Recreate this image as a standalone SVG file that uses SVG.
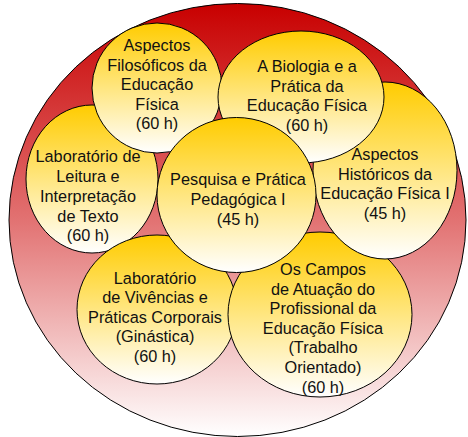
<svg xmlns="http://www.w3.org/2000/svg" width="468" height="437" viewBox="0 0 468 437">
  <defs>
    <linearGradient id="gRed" x1="0" y1="0" x2="0" y2="1">
      <stop offset="0" stop-color="#C80000"/>
      <stop offset="0.5" stop-color="#E27272"/>
      <stop offset="1" stop-color="#FFFFFF"/>
    </linearGradient>
    <linearGradient id="gYel" x1="0" y1="0" x2="0" y2="1">
      <stop offset="0" stop-color="#FFCC00"/>
      <stop offset="0.5" stop-color="#FFE680"/>
      <stop offset="1" stop-color="#FFFFFF"/>
    </linearGradient>
  </defs>
  <style>
    .outer { fill: url(#gRed); stroke: #000000; stroke-width: 1; }
    .node ellipse { fill: url(#gYel); stroke: #000000; stroke-width: 1; }
    .node text { font-family: "Liberation Sans", Arial, sans-serif; font-size: 16.3px; fill: #111111; text-anchor: middle; }
  </style>
  <ellipse class="outer" cx="237.5" cy="220" rx="228.5" ry="216.5"/>
  <g id="connectors"></g>
  <g id="leitura" class="node">
    <ellipse cx="92" cy="179" rx="66" ry="74"/>
    <text x="88" y="162">Laboratório de</text>
    <text x="88" y="182">Leitura e</text>
    <text x="88" y="202">Interpretação</text>
    <text x="88" y="221.5">de Texto</text>
    <text x="88" y="241">(60 h)</text>
  </g>
  <g id="vivencias" class="node">
    <ellipse cx="157" cy="309.5" rx="80" ry="74.5"/>
    <text x="155" y="284">Laboratório</text>
    <text x="155" y="303">de Vivências e</text>
    <text x="155" y="322.5">Práticas Corporais</text>
    <text x="155" y="342">(Ginástica)</text>
    <text x="155" y="361.5">(60 h)</text>
  </g>
  <g id="campos" class="node">
    <ellipse cx="320" cy="314.5" rx="92" ry="82.5"/>
    <text x="323" y="275">Os Campos</text>
    <text x="323" y="294.5">de Atuação do</text>
    <text x="323" y="314">Profissional da</text>
    <text x="323" y="333.5">Educação Física</text>
    <text x="323" y="353">(Trabalho</text>
    <text x="323" y="373">Orientado)</text>
    <text x="323" y="393">(60 h)</text>
  </g>
  <g id="historicos" class="node">
    <ellipse cx="385" cy="170.5" rx="72" ry="88.5"/>
    <text x="385" y="160">Aspectos</text>
    <text x="385" y="179.5">Históricos da</text>
    <text x="385" y="199">Educação Física I</text>
    <text x="385" y="219">(45 h)</text>
  </g>
  <g id="filosoficos" class="node">
    <ellipse cx="157" cy="88" rx="65" ry="65"/>
    <text x="157" y="51">Aspectos</text>
    <text x="157" y="70.5">Filosóficos da</text>
    <text x="157" y="90">Educação</text>
    <text x="157" y="109.5">Física</text>
    <text x="157" y="129">(60 h)</text>
  </g>
  <g id="biologia" class="node">
    <ellipse cx="301" cy="97" rx="83" ry="66"/>
    <text x="307" y="71.5">A Biologia e a</text>
    <text x="307" y="91.5">Prática da</text>
    <text x="307" y="111">Educação Física</text>
    <text x="307" y="131">(60 h)</text>
  </g>
  <g id="pesquisa" class="node">
    <ellipse cx="236.5" cy="195" rx="79.5" ry="77.5"/>
    <text x="238" y="185">Pesquisa e Prática</text>
    <text x="238" y="205">Pedagógica I</text>
    <text x="238" y="225">(45 h)</text>
  </g>
</svg>
